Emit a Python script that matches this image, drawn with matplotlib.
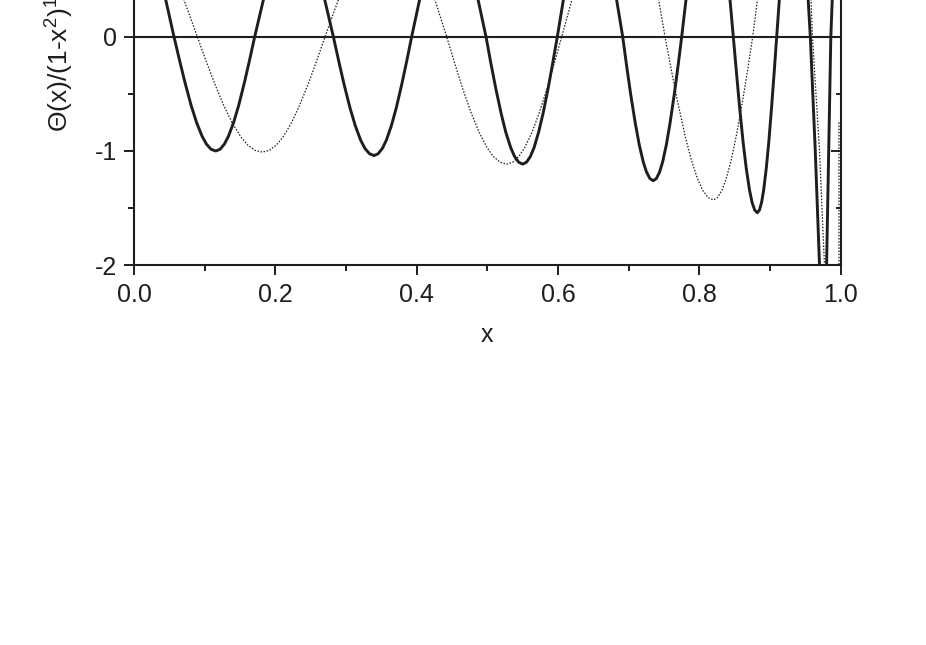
import matplotlib
matplotlib.use('Agg')
import matplotlib.pyplot as plt
from matplotlib.ticker import MultipleLocator

plt.rcParams['font.family'] = ['Liberation Sans', 'DejaVu Sans']
plt.rcParams['mathtext.fontset'] = 'custom'
plt.rcParams['mathtext.rm'] = 'Liberation Sans'
plt.rcParams['mathtext.default'] = 'regular'

ink = '#1e1e1e'

# solid (thick) curve; the peaks lie above the visible frame
thick_x = [0.0,
           0.045, 0.0566, 0.0642, 0.0721, 0.0808, 0.0885, 0.0963, 0.1025, 0.1091, 0.1156,
           0.1217, 0.1279, 0.1337, 0.1410, 0.1482, 0.1563, 0.1637, 0.1708, 0.183,
           0.226,
           0.270, 0.2821, 0.2895, 0.2972, 0.3057, 0.3132, 0.3207, 0.3268, 0.3333, 0.3396,
           0.3455, 0.3514, 0.3571, 0.3641, 0.3711, 0.3789, 0.3861, 0.3929, 0.404,
           0.446,
           0.487, 0.4981, 0.5047, 0.5117, 0.5194, 0.5261, 0.5330, 0.5385, 0.5443, 0.5500,
           0.5554, 0.5609, 0.5661, 0.5725, 0.5789, 0.5862, 0.5927, 0.5990, 0.6075,
           0.645,
           0.683, 0.6915, 0.6970, 0.7028, 0.7093, 0.7149, 0.7206, 0.7252, 0.7300, 0.7348,
           0.7392, 0.7437, 0.7480, 0.7533, 0.7585, 0.7645, 0.7699, 0.7750, 0.781,
           0.812,
           0.8434, 0.8480, 0.8524, 0.8569, 0.8619, 0.8664, 0.8709, 0.8745, 0.8783, 0.8820,
           0.8850, 0.8881, 0.8910, 0.8946, 0.8982, 0.9022, 0.9059, 0.9094, 0.9131,
           0.934,
           0.954, 0.957, 0.964, 0.970, 0.975, 0.980, 0.983, 0.986, 0.988, 0.995]
thick_y = [1.2,
           0.32, 0.0, -0.2, -0.4, -0.6, -0.75, -0.87, -0.94, -0.985, -1.0,
           -0.985, -0.94, -0.87, -0.75, -0.6, -0.4, -0.2, 0.0, 0.32,
           1.0,
           0.32, 0.0, -0.208, -0.416, -0.624, -0.78, -0.905, -0.978, -1.024, -1.04,
           -1.024, -0.978, -0.905, -0.78, -0.624, -0.416, -0.208, 0.0, 0.32,
           1.0,
           0.32, 0.0, -0.223, -0.446, -0.669, -0.836, -0.97, -1.048, -1.098, -1.115,
           -1.098, -1.048, -0.97, -0.836, -0.669, -0.446, -0.223, 0.0, 0.32,
           1.0,
           0.32, 0.0, -0.252, -0.504, -0.756, -0.945, -1.096, -1.184, -1.241, -1.26,
           -1.241, -1.184, -1.096, -0.945, -0.756, -0.504, -0.252, 0.0, 0.32,
           1.0,
           0.32, 0.0, -0.308, -0.616, -0.924, -1.155, -1.34, -1.448, -1.517, -1.54,
           -1.517, -1.448, -1.34, -1.155, -0.924, -0.616, -0.308, 0.0, 0.32,
           1.0,
           0.32, 0.0, -1.0, -2.0, -2.5, -2.0, -1.0, 0.0, 0.32, 1.2]

# dotted (thin) curve
dot_x = [0.0,
         0.0708, 0.0896, 0.1014, 0.1137, 0.1273, 0.1393, 0.1514, 0.1612, 0.1715, 0.1816,
         0.1914, 0.2013, 0.2107, 0.2224, 0.2339, 0.2471, 0.2590, 0.2703, 0.289,
         0.357,
         0.426, 0.4424, 0.4533, 0.4646, 0.4772, 0.4883, 0.4995, 0.5085, 0.5180, 0.5273,
         0.5359, 0.5446, 0.5529, 0.5631, 0.5733, 0.5848, 0.5952, 0.6052, 0.6196,
         0.681,
         0.7425, 0.7514, 0.7601, 0.7693, 0.7794, 0.7883, 0.7973, 0.8045, 0.8122, 0.8197,
         0.8258, 0.8321, 0.8380, 0.8454, 0.8526, 0.8609, 0.8684, 0.8755, 0.882,
         0.920,
         0.958, 0.960, 0.970, 0.977, 0.983, 0.9975, 0.9975]
dot_y = [1.2,
         0.32, 0.0, -0.202, -0.404, -0.606, -0.758, -0.879, -0.949, -0.995, -1.01,
         -0.995, -0.949, -0.879, -0.758, -0.606, -0.404, -0.202, 0.0, 0.32,
         1.0,
         0.32, 0.0, -0.223, -0.446, -0.669, -0.836, -0.97, -1.048, -1.098, -1.115,
         -1.098, -1.048, -0.97, -0.836, -0.669, -0.446, -0.223, 0.0, 0.32,
         1.0,
         0.32, 0.0, -0.286, -0.571, -0.857, -1.071, -1.242, -1.342, -1.407, -1.428,
         -1.407, -1.342, -1.242, -1.071, -0.857, -0.571, -0.286, 0.0, 0.32,
         1.0,
         0.32, 0.0, -1.0, -2.0, -2.6, -2.3, -0.75]

fig = plt.figure(figsize=(9.26, 6.45), dpi=100)
# the frame runs past the top edge of the picture, as in the original crop
ax = fig.add_axes([0.1447, 0.5887, 0.7632, 0.7088])

ax.plot(dot_x, dot_y, color=ink, lw=0.9, linestyle=(0, (1.2, 1.3)))
ax.plot(thick_x, thick_y, color=ink, lw=2.1, solid_joinstyle='round')
ax.axhline(0, color=ink, lw=1.5)

ax.set_xlim(0, 1)
ax.set_ylim(-2, 2)

for s in ax.spines.values():
    s.set_linewidth(1.5)
    s.set_color(ink)

ax.xaxis.set_major_locator(MultipleLocator(0.2))
ax.xaxis.set_minor_locator(MultipleLocator(0.1))
ax.yaxis.set_major_locator(MultipleLocator(1))
ax.yaxis.set_minor_locator(MultipleLocator(0.5))
ax.xaxis.set_major_formatter(lambda v, p: f'{v:.1f}')
# labels above 0 fall outside the picture
ax.yaxis.set_major_formatter(lambda v, p: '' if v > 0.5 else ('0' if abs(v) < 1e-9 else f'{v:.0f}'))

ax.tick_params(which='both', direction='out', width=1.4, color=ink, labelsize=18, labelcolor=ink,
               top=False, right=False)
ax.tick_params(which='major', length=7.5, pad=5)
ax.tick_params(which='minor', length=4)

# inward ticks on the right side, no labels
ax2 = ax.twinx()
ax2.set_ylim(ax.get_ylim())
ax2.yaxis.set_major_locator(MultipleLocator(1))
ax2.yaxis.set_minor_locator(MultipleLocator(0.5))
ax2.tick_params(which='both', direction='in', width=1.4, color=ink, labelright=False)
ax2.tick_params(which='major', length=7.5)
ax2.tick_params(which='minor', length=3.5)
for s in ax2.spines.values():
    s.set_visible(False)

ax.set_xlabel('x', fontsize=18, color=ink, labelpad=12)
ax.set_ylabel('Θ(x)/(1-x$^2$)$^{1/2}$', fontsize=19, color=ink)
ax.yaxis.set_label_coords(-0.083, 0.4556)

fig.savefig('out.png', dpi=100)
